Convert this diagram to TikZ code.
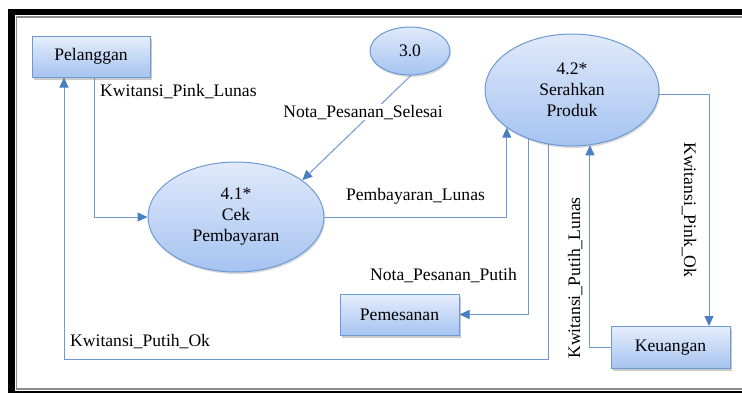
\documentclass[tikz,border=0pt]{standalone}
\usepackage{fontspec}
\setmainfont{Liberation Serif}[Ligatures=TeX]
\usetikzlibrary{shapes.geometric,arrows.meta,shadows,backgrounds}

\definecolor{lineblue}{HTML}{6F98D2}
\definecolor{tipblue}{HTML}{4A7EC2}
\definecolor{edgeblue}{HTML}{6E9AD4}
\definecolor{filltop}{HTML}{E6EEFC}
\definecolor{fillbot}{HTML}{A6C3F0}

\tikzset{
  every node/.style={font=\rmfamily\fontsize{17.6}{21}\selectfont},
  extbox/.style={rectangle, draw=edgeblue, line width=1pt,
    top color=filltop, bottom color=fillbot, inner sep=0pt,
    drop shadow={shadow xshift=2pt, shadow yshift=-2.5pt, opacity=0.35, fill=black!60}},
  procbubble/.style={ellipse, draw=edgeblue, line width=1pt,
    top color=filltop!90!fillbot, bottom color=fillbot, inner sep=0pt, align=center,
    drop shadow={shadow xshift=1pt, shadow yshift=-2pt, opacity=0.25, fill=black!60}},
  flow/.style={draw=lineblue, line width=1pt,
    -{Triangle[length=10pt, width=9pt, fill=tipblue, color=tipblue]}},
  flowlabel/.style={inner sep=1pt}
}

\begin{document}
\begin{tikzpicture}[x=1pt, y=-1pt]
  \useasboundingbox (0,0) rectangle (742,392);
  \clip (0,0) rectangle (742,392);

  % outer frame
  \draw[black, line width=6.5pt] (11.5,12) rectangle (760,394);
  \draw[black!45, line width=1.5pt] (16.3,16.8) rectangle (760,388.8);

  % external entities
  \node[extbox, minimum width=118pt, minimum height=41pt] (pel) at (91,56.5) {Pelanggan};
  \node[extbox, minimum width=119pt, minimum height=41pt] (pem) at (399.5,314.5) {Pemesanan};
  \node[extbox, minimum width=119pt, minimum height=42pt] (keu) at (670.5,347.5) {Keuangan};

  % processes
  \node[procbubble, minimum width=176pt, minimum height=110pt] (cek) at (236,217)
    {4.1*\\Cek\\Pembayaran};
  \node[procbubble, minimum width=80pt, minimum height=48pt] (p30) at (410,51) {3.0};
  \node[procbubble, minimum width=174pt, minimum height=112pt] (ser) at (572,90)
    {4.2*\\Serahkan\\Produk};

  \begin{scope}[on background layer]
    % Kwitansi_Pink_Lunas
    \draw[flow] (pel.south -| 94,0) |- (cek.west);
    % Kwitansi_Putih_Ok
    \coordinate (pokcorner) at (64,359);
    \draw[flow] (ser.247.9) |- (pokcorner) -- (pel.south -| pokcorner);
    % Pembayaran_Lunas
    \draw[flow] (cek.east) -| (ser.210.7);
    % Nota_Pesanan_Putih
    \draw[flow] (ser.228.6) |- (pem.east);
    % Kwitansi_Pink_Ok
    \draw[flow] (ser.-3.3) -| (709,0 |- keu.north);
    % Kwitansi_Putih_Lunas
    \draw[flow] (keu.west) -| (ser.288.2);
    % Nota_Pesanan_Selesai
    \draw[flow] (p30.-88) -- (cek.29);
  \end{scope}

  % flow labels
  \node[flowlabel, anchor=base west] (lkpl) at (99,96) {Kwitansi\_Pink\_Lunas};
  \node[flowlabel, anchor=base, fill=white] (lnps) at (363,117) {Nota\_Pesanan\_Selesai};
  \node[flowlabel, anchor=base] (lpl) at (415.5,200.5) {Pembayaran\_Lunas};
  \node[flowlabel, anchor=base] (lnpp) at (443.5,280) {Nota\_Pesanan\_Putih};
  \node[flowlabel, anchor=base west] (lkpo) at (69,346.5) {Kwitansi\_Putih\_Ok};
  \node[flowlabel, rotate=90, anchor=base] (lkpul) at (580,278) {Kwitansi\_Putih\_Lunas};
  \node[flowlabel, rotate=-90, anchor=base] (lkpok) at (684,210) {Kwitansi\_Pink\_Ok};
\end{tikzpicture}
\end{document}
